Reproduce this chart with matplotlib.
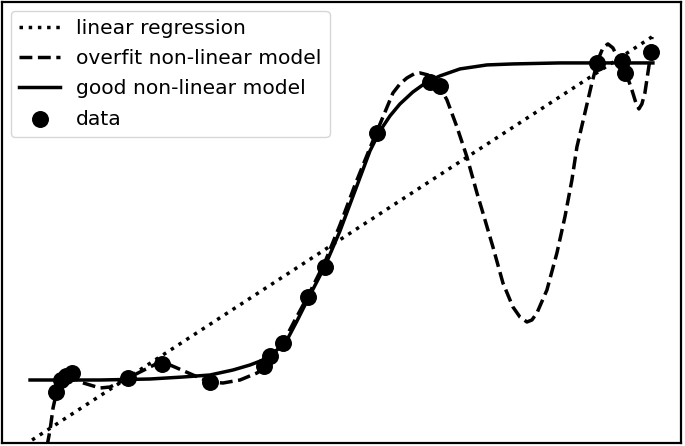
import numpy as np
import matplotlib
matplotlib.use("Agg")
import matplotlib.pyplot as plt

# observed data points
data_x = [56, 61, 66, 72, 128, 162, 210, 264, 270, 283, 308, 325, 377, 430, 440, 597, 622, 625, 651]
data_y = [392, 380, 376, 373, 378, 364, 382, 366, 356, 343, 297, 267, 133, 82, 86, 63, 61, 73, 52]

# linear regression (straight line, two ends)
lin_x = [32, 652]
lin_y = [440, 37]

# overfit model
over_x = [47, 50, 53, 57, 62, 68, 75, 80, 90, 100, 110, 120, 128, 140, 150, 158, 163, 170, 177,
          193, 210, 223, 240, 257, 265, 273, 283, 295, 308, 325, 340, 355, 370, 383, 393, 400,
          407, 414, 420, 428, 435, 440, 447, 457, 467, 477, 483, 493, 503, 513, 520, 527, 532,
          537, 547, 557, 565, 572, 577, 585, 592, 598, 603, 608, 613, 618, 625, 632, 636, 639,
          642, 645, 648, 651, 652]
over_y = [446, 430, 408, 390, 380, 376, 378, 382, 385, 388, 387, 382, 378, 372, 367, 363, 363, 365, 368,
          375, 382, 383, 380, 373, 367, 357, 343, 320, 296, 262, 225, 185, 148, 117, 93, 84,
          78, 74, 73, 75, 81, 87, 100, 127, 157, 193, 213, 247, 283, 307, 317, 322, 320,
          313, 290, 253, 217, 180, 147, 113, 83, 60, 48, 44, 48, 58, 70, 90, 103, 109,
          104, 93, 73, 53, 37]

# good model
good_x = [30, 100, 150, 183, 210, 233, 250, 263, 277, 287, 297, 308, 325, 340, 355, 370, 380,
          390, 400, 413, 427, 440, 460, 487, 513, 560, 610, 653]
good_y = [380, 380, 379, 377, 375, 370, 365, 360, 350, 340, 321, 299, 266, 231, 191, 151, 131,
          116, 104, 92, 82, 76, 69, 65, 64, 63, 63, 63]

fig = plt.figure(figsize=(6.85, 4.46), dpi=100)
ax = fig.add_axes([0.003, 0.0067, 0.991, 0.989])

ax.plot(lin_x, lin_y, ':', color='black', lw=2.5, label='linear regression')
ax.plot(over_x, over_y, '--', color='black', lw=2.5, label='overfit non-linear model')
ax.plot(good_x, good_y, '-', color='black', lw=2.5, label='good non-linear model')
ax.scatter(data_x, data_y, s=125, color='black', zorder=3, label='data')

ax.set_xlim(2, 681)
ax.set_ylim(443, 2)
ax.set_xticks([])
ax.set_yticks([])
for sp in ax.spines.values():
    sp.set_linewidth(1.6)

ax.legend(loc='upper left', fontsize=14.6, borderaxespad=0.45, handlelength=2.0,
          labelspacing=0.55)

fig.savefig('out.png', dpi=100)
